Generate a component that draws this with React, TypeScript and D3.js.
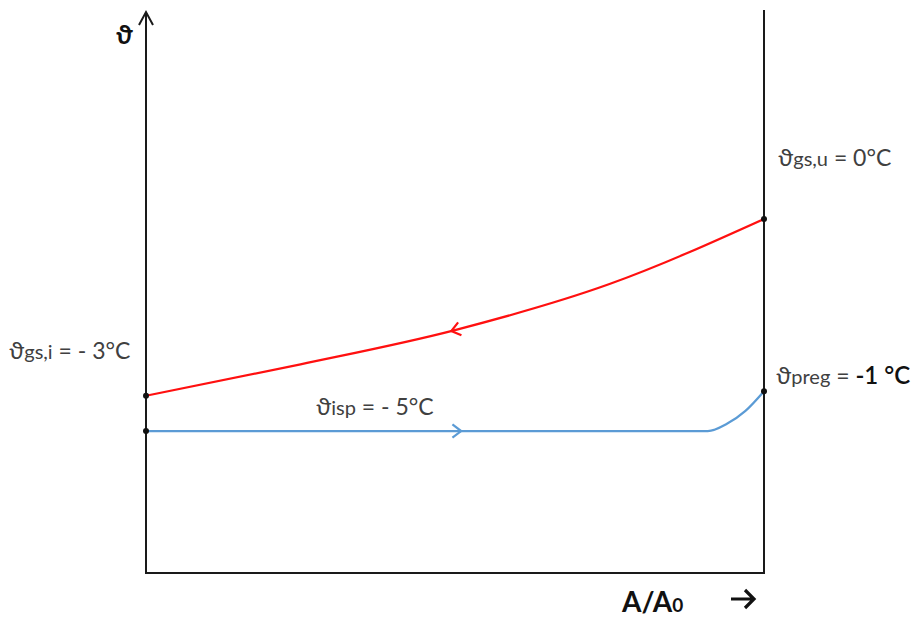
import React, { useEffect, useRef } from "react";
import * as d3 from "d3";

// Schematic values: x = A/A0 (0..1), y = relative temperature level (0..100)
const redX = [0, 0.25, 0.5, 0.75, 1];
const redY = [31.6, 37.2, 43.3, 51.5, 63.1];
const blueX = [0, 0.5, 0.909, 0.94, 0.97, 1];
const blueY = [25.3, 25.3, 25.3, 26.6, 28.9, 32.4];
const labels = {
  gsi: ["ϑ", "gs,i", " = - 3°C"],
  gsu: ["ϑ", "gs,u", " = 0°C"],
  preg: ["ϑ", "preg", " = ", "-1 °C"],
  isp: ["ϑ", "isp", " = - 5°C"],
};

export default function App() {
  const ref = useRef<SVGSVGElement | null>(null);
  useEffect(() => {
    const svg = d3.select(ref.current);
    svg.selectAll("*").remove();
    const x = d3.scaleLinear().domain([0, 1]).range([146, 764]);
    const y = d3.scaleLinear().domain([0, 100]).range([573, 12]);
    const font = "Lato, 'Open Sans', sans-serif";
    const gray = "#404040";

    // axes
    const ax = svg.append("g").attr("stroke", "#1a1a1a").attr("stroke-width", 2).attr("fill", "none");
    ax.append("line").attr("x1", x(0)).attr("x2", x(0)).attr("y1", 573).attr("y2", 12);
    ax.append("line").attr("x1", x(0) - 1).attr("x2", x(1) + 1).attr("y1", 573).attr("y2", 573);
    ax.append("line").attr("x1", x(1)).attr("x2", x(1)).attr("y1", 574).attr("y2", 10);
    ax.append("path").attr("d", `M${x(0) - 7},25 L${x(0)},12 L${x(0) + 7},25`);

    const line = d3.line<[number, number]>().x((d) => d[0]).y((d) => d[1]).curve(d3.curveMonotoneX);
    const redPts: [number, number][] = redX.map((v, i) => [x(v), y(redY[i])]);
    const bluePts: [number, number][] = blueX.map((v, i) => [x(v), y(blueY[i])]);
    const redPath = svg.append("path").attr("d", line(redPts) as string)
      .attr("fill", "none").attr("stroke", "#ff1010").attr("stroke-width", 2.2);
    const bluePath = svg.append("path").attr("d", line(bluePts) as string)
      .attr("fill", "none").attr("stroke", "#5b9bd5").attr("stroke-width", 2.2);

    const arrowAt = (path: any, px: number, dir: number, color: string) => {
      const node = path.node() as SVGPathElement;
      const total = node.getTotalLength();
      let lo = 0, hi = total;
      for (let i = 0; i < 40; i++) {
        const mid = (lo + hi) / 2;
        if (node.getPointAtLength(mid).x < px) lo = mid; else hi = mid;
      }
      const p = node.getPointAtLength(lo);
      const q = node.getPointAtLength(Math.min(total, lo + 2));
      let ang = Math.atan2(q.y - p.y, q.x - p.x);
      if (dir < 0) ang += Math.PI;
      const L = 11, a = 0.65;
      const w1 = [p.x - L * Math.cos(ang - a), p.y - L * Math.sin(ang - a)];
      const w2 = [p.x - L * Math.cos(ang + a), p.y - L * Math.sin(ang + a)];
      svg.append("path").attr("d", `M${w1[0]},${w1[1]} L${p.x},${p.y} L${w2[0]},${w2[1]}`)
        .attr("fill", "none").attr("stroke", color).attr("stroke-width", 2.2);
    };
    arrowAt(redPath, x(0.494), -1, "#ff1010");
    arrowAt(bluePath, x(0.51), 1, "#5b9bd5");

    // endpoints
    [redPts[0], redPts[redPts.length - 1], bluePts[0], bluePts[bluePts.length - 1]].forEach((p) => {
      svg.append("circle").attr("cx", p[0]).attr("cy", p[1]).attr("r", 3).attr("fill", "#111");
    });

    const addLabel = (tx: number, ty: number, parts: string[], extraDark = false) => {
      const t = svg.append("text").attr("x", tx).attr("y", ty).attr("font-family", font).attr("fill", gray).attr("font-size", 23);
      parts.forEach((s, i) => {
        const ts = t.append("tspan").text(s);
        if (i === 1) ts.attr("font-size", 20);
        if (i === 0) ts.attr("font-size", 24);
        if (i === 3 && extraDark) ts.attr("fill", "#111").attr("font-size", 24).attr("font-weight", 600);
      });
    };
    addLabel(9, 359, labels.gsi);
    addLabel(778, 166, labels.gsu);
    addLabel(776, 384, labels.preg, true);
    addLabel(316, 415, labels.isp);

    svg.append("text").attr("x", 116).attr("y", 44).attr("font-family", font).attr("font-weight", "bold")
      .attr("font-size", 26).attr("fill", "#111").text("ϑ");
    const ax2 = svg.append("text").attr("x", 622).attr("y", 612).attr("font-family", font).attr("font-weight", "bold")
      .attr("font-size", 28).attr("fill", "#111");
    ax2.append("tspan").text("A/A");
    ax2.append("tspan").attr("font-size", 19).text("0");
    // axis arrow glyph "→"
    svg.append("path").attr("d", "M731,599 L754,599 M745,590 L754,599 L745,608")
      .attr("fill", "none").attr("stroke", "#111").attr("stroke-width", 3.2);
  }, []);
  return (
    <svg ref={ref} width={915} height={617} style={{ position: "absolute", left: 0, top: 0, background: "#fff" }} />
  );
}
